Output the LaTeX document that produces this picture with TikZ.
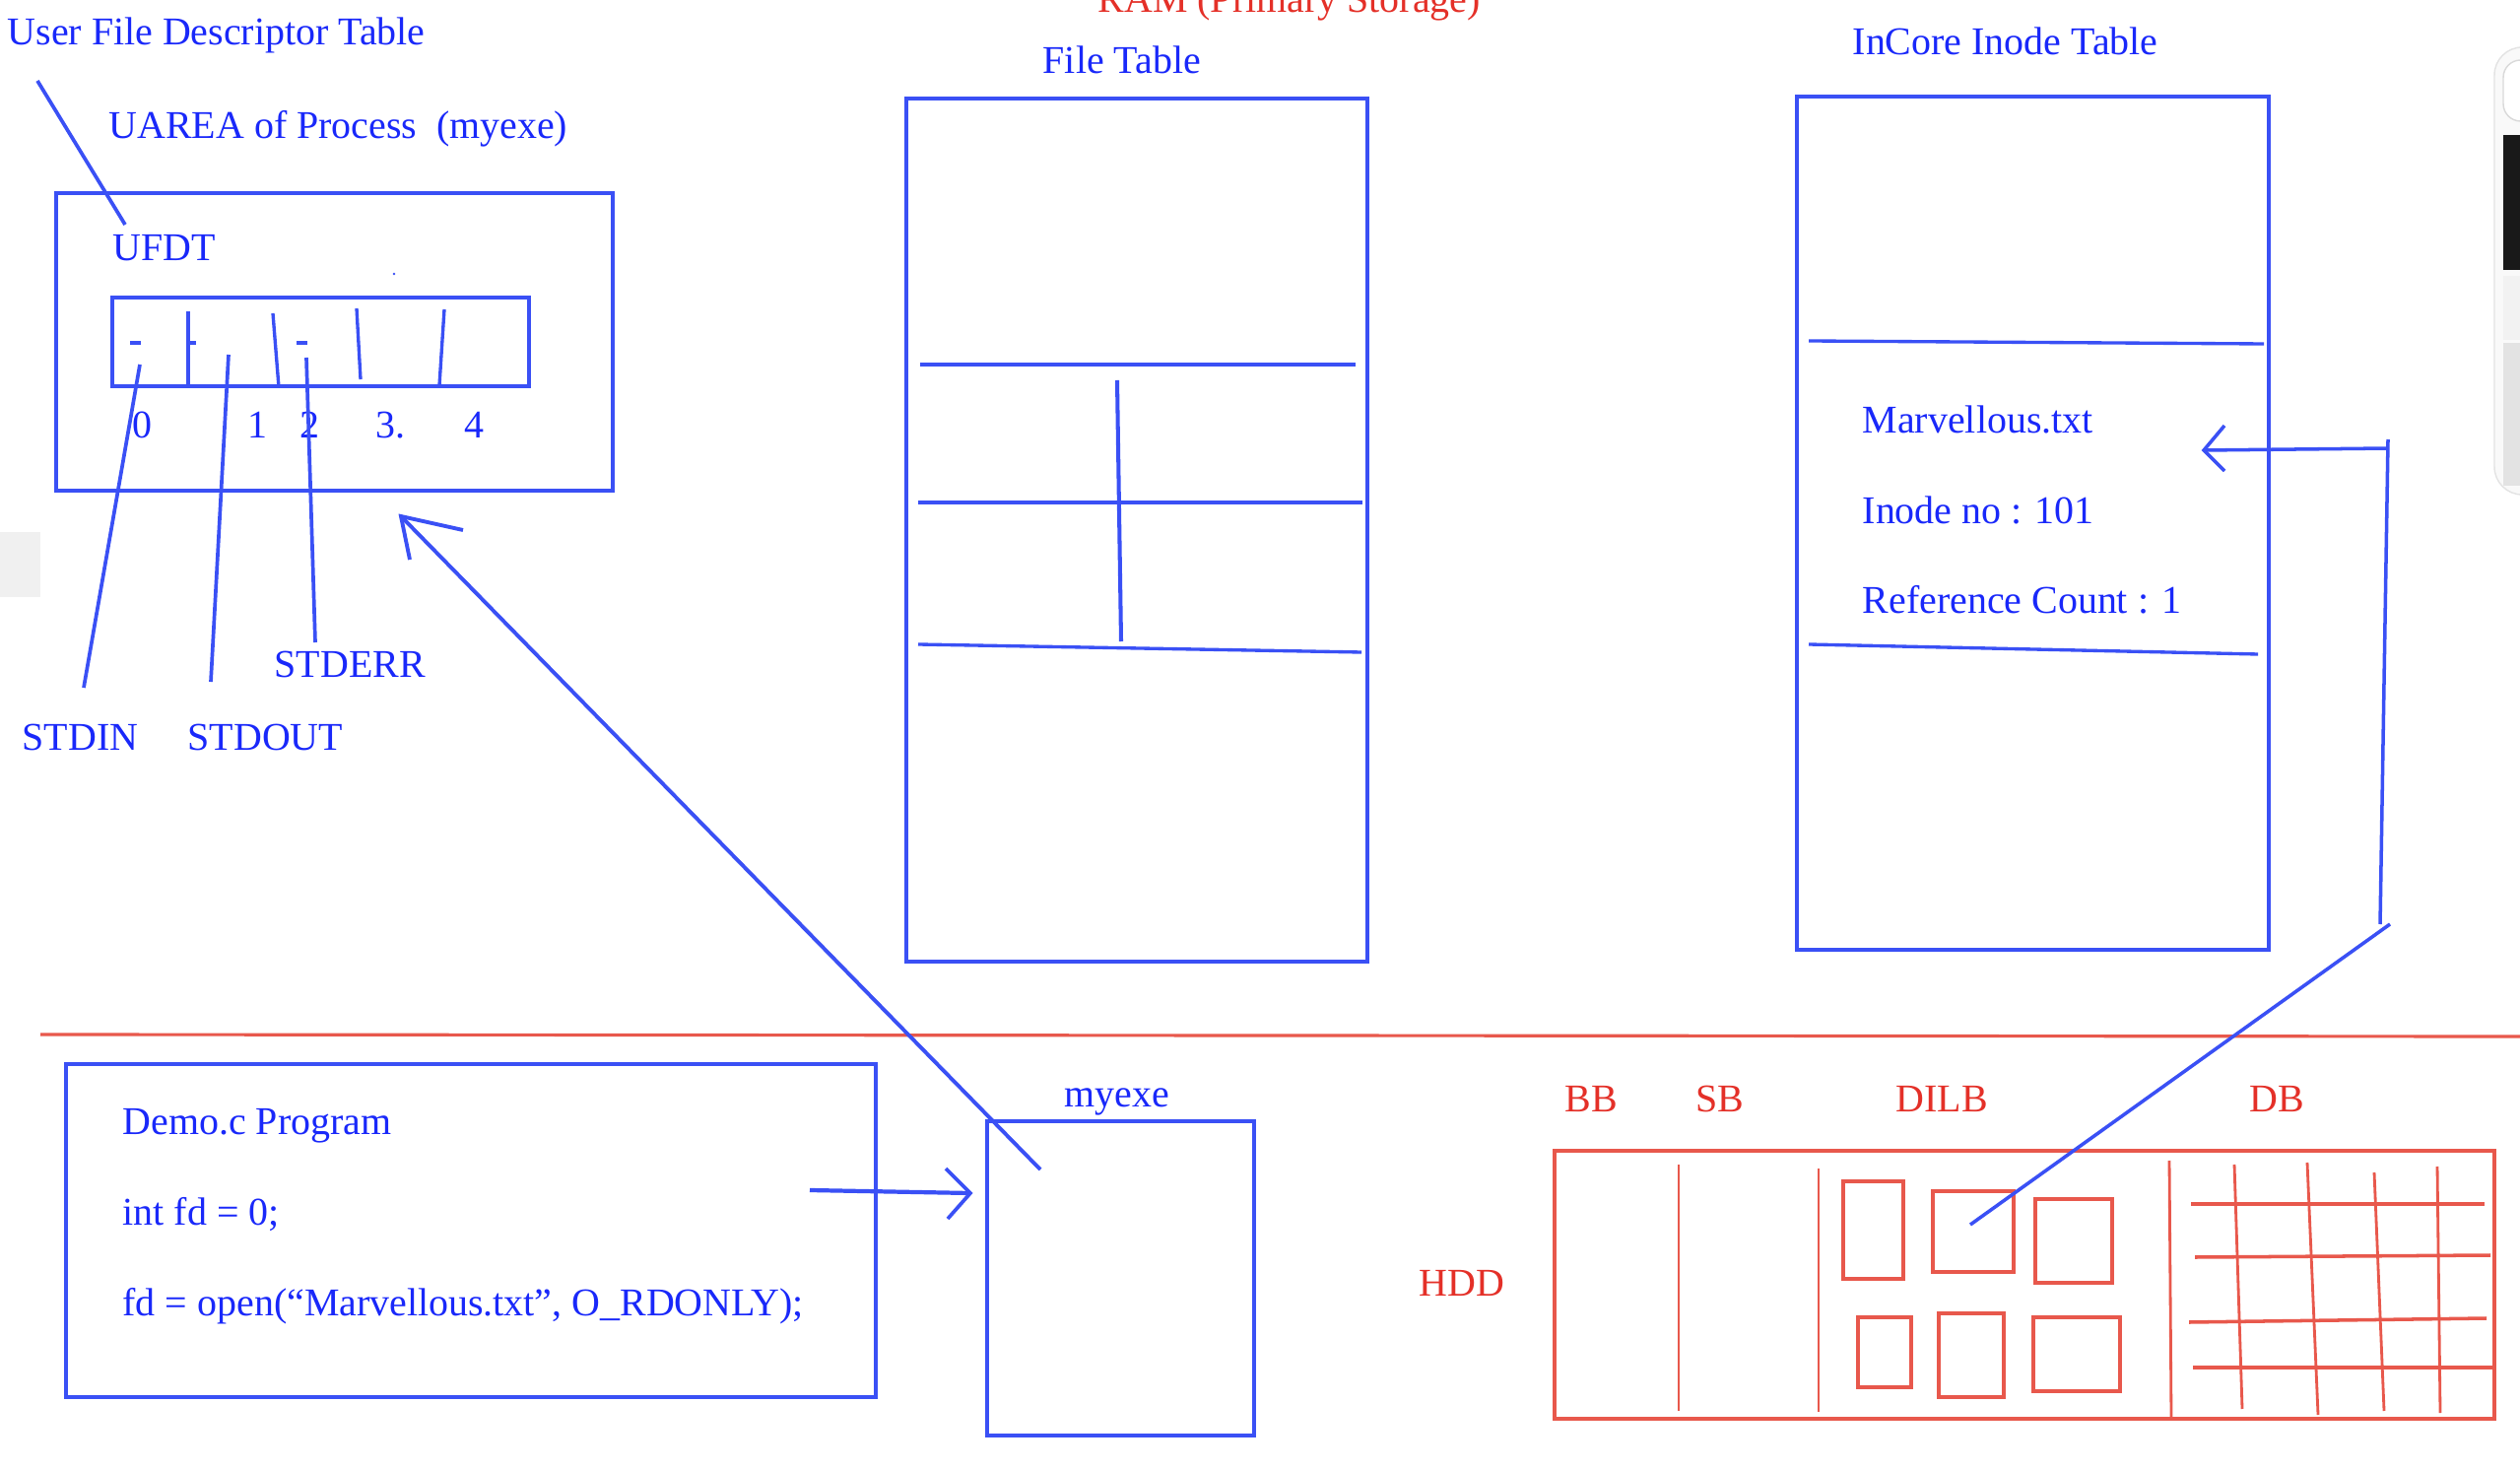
\documentclass[tikz,border=0pt]{standalone}
\usepackage{fontspec}
\setmainfont{Liberation Serif}
\definecolor{lblue}{RGB}{58,80,245}
\definecolor{tblue}{RGB}{25,40,250}
\definecolor{lred}{RGB}{232,88,76}
\definecolor{tred}{RGB}{228,48,40}
\begin{document}
\begin{tikzpicture}[x=0.01cm,y=-0.01cm,
  txt/.style={font=\fontsize{11.35}{13}\selectfont, text=tblue, inner sep=0pt, anchor=base west},
  rtxt/.style={txt, text=tred},
  bluebox/.style={draw=lblue, line width=1.25pt},
  bluethin/.style={draw=lblue, line width=0.95pt},
  redbox/.style={draw=lred, line width=1.15pt},
  redthin/.style={draw=lred, line width=0.8pt},
  redmid/.style={draw=lred, line width=1pt}]
\useasboundingbox (0,0) rectangle (2558,1492);
\fill[white] (0,0) rectangle (2558,1492);
% screenshot artefacts
\fill[gray!12] (0,540) rectangle (41,606);
\filldraw[fill=gray!5, draw=gray!22, rounded corners=8] (2532,48) rectangle (2590,502);
\filldraw[fill=white, draw=gray!30, rounded corners=5] (2541,61) rectangle (2590,123);
\fill[black!90] (2541,137) rectangle (2558,274);
\fill[gray!10] (2541,280) rectangle (2558,345);
\fill[gray!22] (2541,348) rectangle (2558,493);

% ---------- texts ----------
\node[txt] (ufdtTitle) at (7,46) {User File Descriptor Table};
\node[txt] (uareaT) at (110,141) {UAREA of Process\ \ (myexe)};
\node[txt] (ufdtT) at (114,265) {UFDT};
\node[txt] (d0) at (134,445) {0};
\node[txt] (d1) at (251,445) {1};
\node[txt] (d2) at (304,445) {2};
\node[txt] (d3) at (381,445) {3.};
\node[txt] (d4) at (471,445) {4};
\node[txt] (stdinT) at (22,762) {STDIN};
\node[txt] (stdoutT) at (190,762) {STDOUT};
\node[txt] (stderrT) at (278,688) {STDERR};
\node[rtxt] (ramT) at (1114,13) {RAM (Primary Storage)};
\node[txt] (ftT) at (1058,75) {File Table};
\node[txt] (inT) at (1880,56) {InCore Inode Table};
\node[txt] (fnameT) at (1890,440) {Marvellous.txt};
\node[txt] (inodeT) at (1890,532) {Inode no : 101};
\node[txt] (refT) at (1890,623) {Reference Count : 1};
\node[txt] (demoT) at (124,1151) {Demo.c Program};
\node[txt] (intT) at (124,1243) {int fd = 0;};
\node[txt] (openT) at (124,1335) {fd = open(“Marvellous.txt”, O\_RDONLY);};
\node[txt] (myexeT) at (1080,1123) {myexe};
\node[rtxt] (bbT) at (1588,1128) {BB};
\node[rtxt] (sbT) at (1721,1128) {SB};
\node[rtxt] (dilbT) at (1924,1128) {DILB};
\node[rtxt] (dbT) at (2283,1128) {DB};
\node[rtxt] (hddT) at (1440,1315) {HDD};

% ---------- UAREA / UFDT ----------
\draw[bluebox] (57,196) rectangle (622,498);
\draw[bluebox] (114,302) rectangle (537,392);
\draw[bluethin] (191,316) -- (191,390);
\draw[bluethin] (277,318) -- (283,393);
\draw[bluethin] (362,313) -- (366,385);
\draw[bluethin] (451,314) -- (446,391);
\draw[lblue, line width=1.15pt] (132,348) -- (143,348);
\draw[lblue, line width=1.15pt] (189,348) -- (199,348);
\draw[lblue, line width=1.15pt] (301,348) -- (312,348);
\fill[lblue] (400,278) circle (1.3);

\coordinate (ptA) at (38,82);   \coordinate (ptB) at (127,228);
\draw[bluethin, line width=1.05pt] (ptA) -- (ptB);
\coordinate (inA) at (142,370);  \coordinate (inB) at (85,698);
\coordinate (outA) at (232,360); \coordinate (outB) at (214,692);
\coordinate (errA) at (311,363); \coordinate (errB) at (320,652);
\draw[bluethin, line width=1.05pt] (inA) -- (inB);
\draw[bluethin, line width=1.05pt] (outA) -- (outB);
\draw[bluethin, line width=1.05pt] (errA) -- (errB);

% ---------- File table ----------
\draw[bluebox] (920,100) rectangle (1388,976);
\draw[bluethin] (934,370) -- (1376,370);
\draw[bluethin] (932,510) -- (1383,510);
\draw[bluethin] (932,654) -- (1382,662);
\draw[bluethin, line width=1.15pt] (1134,386) -- (1138,651);

% ---------- Inode table ----------
\draw[bluebox] (1824,98) rectangle (2303,964);
\draw[bluethin] (1836,346) -- (2298,349);
\draw[bluethin] (1836,654) -- (2292,664);

% ---------- separator ----------
\draw[lred, line width=0.9pt] (41,1050) -- (2558,1052);

% ---------- Demo / myexe ----------
\draw[bluebox] (67,1080) rectangle (889,1418);
\draw[bluebox] (1002,1138) rectangle (1273,1457);

% arrow myexe -> UAREA
\coordinate (myA) at (1056,1187);
\coordinate (uaTip) at (407,524);
\coordinate (uaArm1) at (470,538);
\coordinate (uaArm2) at (416,568);
\draw[lblue, line width=1.1pt] (myA) -- (uaTip);
\draw[lblue, line width=1.1pt] (uaArm1) -- (uaTip) -- (uaArm2);

% arrow Demo -> myexe
\coordinate (dmA) at (822,1208);
\coordinate (dmTip) at (985,1211);
\coordinate (dmArm1) at (960,1186);
\coordinate (dmArm2) at (962,1237);
\draw[lblue, line width=1.2pt] (dmA) -- (dmTip);
\draw[lblue, line width=1.05pt] (dmArm1) -- (dmTip) -- (dmArm2);

% ---------- HDD ----------
\draw[redbox] (1578,1168) rectangle (2532,1440);
\draw[redthin] (1704,1182) -- (1704,1432);
\draw[redthin] (1846,1186) -- (1846,1433);
\draw[redthin] (2202,1178) -- (2204,1440);
\draw[redmid] (1871,1199) rectangle (1932,1298);
\draw[redmid] (1962,1209) rectangle (2044,1291);
\draw[redmid] (2066,1217) rectangle (2144,1302);
\draw[redmid] (1886,1337) rectangle (1940,1408);
\draw[redmid] (1968,1333) rectangle (2034,1418);
\draw[redmid] (2064,1337) rectangle (2152,1412);
\draw[redmid] (2224,1222) -- (2522,1222);
\draw[redmid] (2228,1276) -- (2528,1274);
\draw[redmid] (2222,1342) -- (2524,1338);
\draw[redmid] (2226,1388) -- (2532,1388);
\draw[redthin] (2268,1182) -- (2276,1430);
\draw[redthin] (2342,1180) -- (2353,1436);
\draw[redthin] (2410,1190) -- (2420,1432);
\draw[redthin] (2474,1184) -- (2477,1434);

% arrow DILB -> inode entry
\coordinate (hdA) at (2000,1243);
\coordinate (hdB) at (2426,938);
\coordinate (hdC) at (2416,938);
\coordinate (hdD) at (2424,446);
\coordinate (hdE) at (2424,455);
\coordinate (inTip) at (2237,457);
\coordinate (inArm1) at (2258,432);
\coordinate (inArm2) at (2258,478);
\draw[lblue, line width=1pt] (hdA) -- (hdB);
\draw[lblue, line width=1pt] (hdC) -- (hdD);
\draw[lblue, line width=1pt] (hdE) -- (inTip);
\draw[lblue, line width=1pt] (inArm1) -- (inTip) -- (inArm2);
\end{tikzpicture}
\end{document}
